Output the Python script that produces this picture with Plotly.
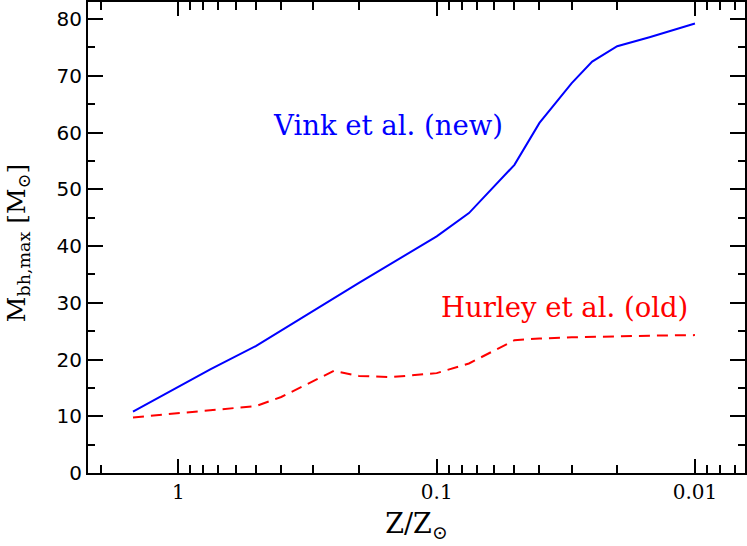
import plotly.graph_objects as go
import numpy as np

# Metallicity grid (Z/Zsun)
z_vink = [1.5, 1.0, 0.75, 0.5, 0.3, 0.2, 0.1, 0.075, 0.05, 0.04, 0.03, 0.025, 0.02, 0.015, 0.01]
m_vink = [10.8, 15.2, 18.3, 22.4, 28.6, 33.5, 41.7, 45.8, 54.3, 61.7, 68.7, 72.5, 75.2, 76.8, 79.2]

z_hurley = [1.5, 1.0, 0.5, 0.4, 0.3, 0.25, 0.2, 0.15, 0.1, 0.075, 0.05, 0.04, 0.03, 0.02, 0.015, 0.01]
m_hurley = [9.8, 10.5, 11.8, 13.4, 16.2, 18.0, 17.1, 16.9, 17.6, 19.3, 23.4, 23.7, 23.9, 24.1, 24.2, 24.3]

x_major = [1, 0.1, 0.01]
x_major_text = ["1", "0.1", "0.01"]
x_minor = [2] + [k / 10 for k in range(2, 10)] + [k / 100 for k in range(2, 10)] + [k / 1000 for k in range(6, 10)]
y_major = list(range(0, 90, 10))

fig = go.Figure()
fig.add_trace(go.Scatter(x=z_vink, y=m_vink, mode="lines",
                         line=dict(color="#0000ff", width=2), showlegend=False))
fig.add_trace(go.Scatter(x=z_hurley, y=m_hurley, mode="lines",
                         line=dict(color="#ff0000", width=2, dash="11px,7px"), showlegend=False))

fig.add_annotation(x=np.log10(0.155), y=61.4, text="Vink et al. (new)", showarrow=False,
                   font=dict(family="DejaVu Serif", size=27.5, color="#0000ff"))
fig.add_annotation(x=np.log10(0.032), y=29.3, text="Hurley et al. (old)", showarrow=False,
                   font=dict(family="DejaVu Serif", size=27.5, color="#ff0000"))
# y-axis title
fig.add_annotation(xref="paper", yref="paper", x=0, y=0.488, xshift=-70,
                   xanchor="center", yanchor="middle", textangle=-90, showarrow=False,
                   text="M<sub>bh,max</sub> [M<sub>⊙</sub>]",
                   font=dict(family="DejaVu Serif", size=25, color="black"))

fig.update_xaxes(type="log", range=[np.log10(2.24), np.log10(0.0064)], automargin=False,
                 tickvals=x_major, ticktext=x_major_text,
                 ticks="inside", ticklen=14, tickwidth=2, tickcolor="black",
                 minor=dict(tickvals=x_minor, ticks="inside", ticklen=8, tickwidth=2, tickcolor="black", showgrid=False),
                 showline=True, linewidth=2, linecolor="black", mirror="allticks",
                 showgrid=False, zeroline=False,
                 tickfont=dict(family="DejaVu Serif", size=20, color="black"),
                 title=dict(text="Z/Z<sub>⊙</sub>", font=dict(family="DejaVu Serif", size=27, color="black"),
                            standoff=11))
fig.update_yaxes(range=[0, 83], tickvals=y_major, automargin=False,
                 ticks="inside", ticklen=15, tickwidth=2, tickcolor="black",
                 minor=dict(dtick=5, ticks="inside", ticklen=7, tickwidth=2, tickcolor="black", showgrid=False),
                 showline=True, linewidth=2, linecolor="black", mirror="allticks",
                 showgrid=False, zeroline=False,
                 tickfont=dict(family="DejaVu Sans", size=20, color="black"))

fig.update_layout(width=747, height=546, margin=dict(l=88, r=2, t=2, b=73),
                  plot_bgcolor="white", paper_bgcolor="white")
fig.write_html("out.html", config={"displayModeBar": False},
               post_script="document.body.style.margin='0';document.body.style.overflow='hidden';")
